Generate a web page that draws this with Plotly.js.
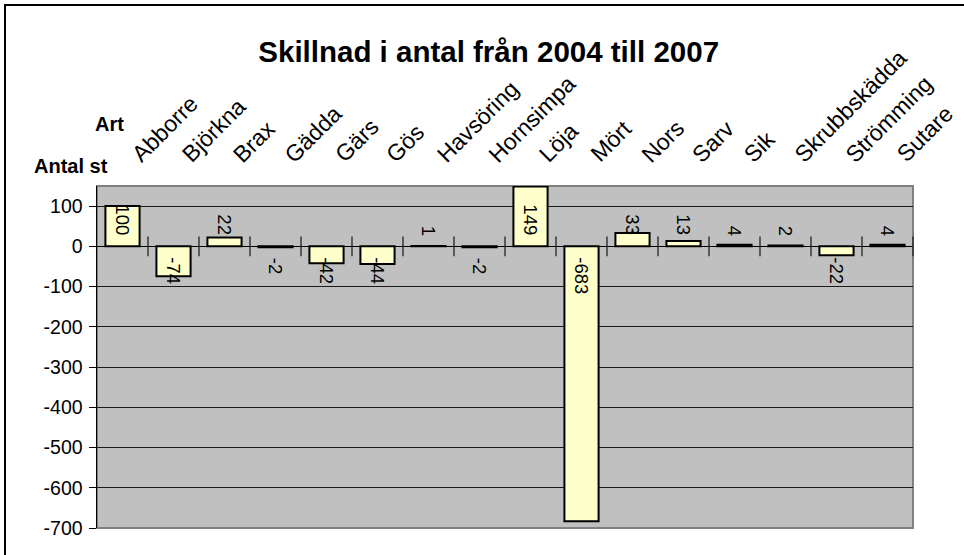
<!DOCTYPE html>
<html>
<head>
<meta charset="utf-8">
<script src="https://cdn.plot.ly/plotly-3.0.1.min.js"></script>
<style>
  html, body { margin: 0; padding: 0; background: #fff; }
  #wrap { position: relative; width: 964px; height: 555px; overflow: hidden; }
  #chart { position: absolute; left: 0; top: 0; width: 964px; height: 555px; }
  #frame { position: absolute; left: 4px; top: 4px; width: 980px; height: 580px;
           border-left: 2px solid #000; border-top: 2px solid #000; pointer-events: none; }
</style>
</head>
<body>
<div id="wrap">
  <div id="chart"></div>
  <div id="frame"></div>
</div>
<script>
// ---- Data ----
const categories = ["Abborre", "Björkna", "Brax", "Gädda", "Gärs", "Gös", "Havsöring", "Hornsimpa",
                    "Löja", "Mört", "Nors", "Sarv", "Sik", "Skrubbskädda", "Strömming", "Sutare"];
const values = [100, -74, 22, -2, -42, -44, 1, -2, 149, -683, 33, 13, 4, 2, -22, 4];
const yTickValues = [-700, -600, -500, -400, -300, -200, -100, 0, 100];
const yTickLabels = ["-700", "-600", "-500", "-400", "-300", "-200", "-100", "0", "100"];
const chartTitle = "Skillnad i antal från 2004 till 2007";
const xAxisLabel = "Art";
const yAxisLabel = "Antal st";

// ---- Derived ----
const idx = categories.map((c, i) => i);
const boundaries = categories.map((c, i) => i + 0.5);
const FONT = "Liberation Sans, Arial, sans-serif";

const bars = {
  type: "bar",
  x: idx,
  y: values,
  width: 0.67,
  marker: { color: "#FFFFCC", line: { color: "#000000", width: 2 } },
  hoverinfo: "skip",
  cliponaxis: false
};

const tickMarks = {
  type: "scatter",
  mode: "markers",
  x: boundaries,
  y: boundaries.map(() => 0),
  marker: { symbol: "line-ns", size: 14, line: { color: "#222", width: 1.3 } },
  hoverinfo: "skip",
  cliponaxis: false
};

const labelAnnotations = values.map((v, i) => ({
  x: i, y: 0, xref: "x", yref: "y",
  text: String(v),
  showarrow: false,
  textangle: 90,
  xanchor: "center",
  yanchor: v >= 0 ? "bottom" : "top",
  yshift: v >= 0 ? 9 : -9,
  font: { family: FONT, size: 18.5, color: "#000" }
}));

const categoryAnnotations = categories.map((c, i) => ({
  x: i, y: 1, xref: "x", yref: "paper",
  text: c,
  showarrow: false,
  textangle: -45,
  xanchor: "left",
  yanchor: "bottom",
  xshift: 1,
  yshift: 16,
  font: { family: FONT, size: 23, color: "#000" }
}));

const layout = {
  width: 964, height: 555,
  margin: { l: 97, r: 51, t: 186, b: 27 },
  paper_bgcolor: "#ffffff",
  plot_bgcolor: "#C0C0C0",
  showlegend: false,
  bargap: 0.33,
  font: { family: FONT, color: "#000" },
  title: {
    text: "<b>" + chartTitle + "</b>",
    font: { family: FONT, size: 29.5, color: "#000" },
    x: 0.480, xanchor: "center",
    y: 0.906, yanchor: "middle", xref: "paper"
  },
  xaxis: {
    type: "linear",
    range: [-0.5, categories.length - 0.5],
    side: "top",
    showticklabels: false,
    ticks: "",
    showgrid: false,
    zeroline: false,
    showline: false,
    fixedrange: true
  },
  yaxis: {
    range: [-700, 150],
    tickmode: "array",
    tickvals: yTickValues,
    ticktext: yTickLabels,
    ticks: "outside",
    ticklen: 7,
    tickwidth: 1,
    tickcolor: "#000",
    showline: true,
    linecolor: "#000",
    linewidth: 1.5,
    showgrid: true,
    gridcolor: "#1a1a1a",
    gridwidth: 1,
    zeroline: true,
    zerolinecolor: "#000",
    zerolinewidth: 1.5,
    tickfont: { family: FONT, size: 19.5, color: "#000" },
    ticklabelstandoff: 2,
    fixedrange: true
  },
  shapes: [
    { type: "rect", xref: "paper", yref: "paper", x0: 0, x1: 1, y0: 0, y1: 1,
      line: { color: "#808080", width: 2 }, layer: "below" }
  ],
  annotations: labelAnnotations.concat(categoryAnnotations, [
    { xref: "paper", yref: "paper", x: 0, y: 1, xanchor: "right", yanchor: "bottom",
      xshift: 29, yshift: 49, text: "<b>" + xAxisLabel + "</b>", showarrow: false,
      font: { family: FONT, size: 20, color: "#000" } },
    { xref: "paper", yref: "paper", x: 0, y: 1, xanchor: "right", yanchor: "bottom",
      xshift: 13, yshift: 7, text: "<b>" + yAxisLabel + "</b>", showarrow: false,
      font: { family: FONT, size: 20, color: "#000" } }
  ])
};

Plotly.newPlot("chart", [bars, tickMarks], layout, { staticPlot: true, displayModeBar: false });
</script>
</body>
</html>
